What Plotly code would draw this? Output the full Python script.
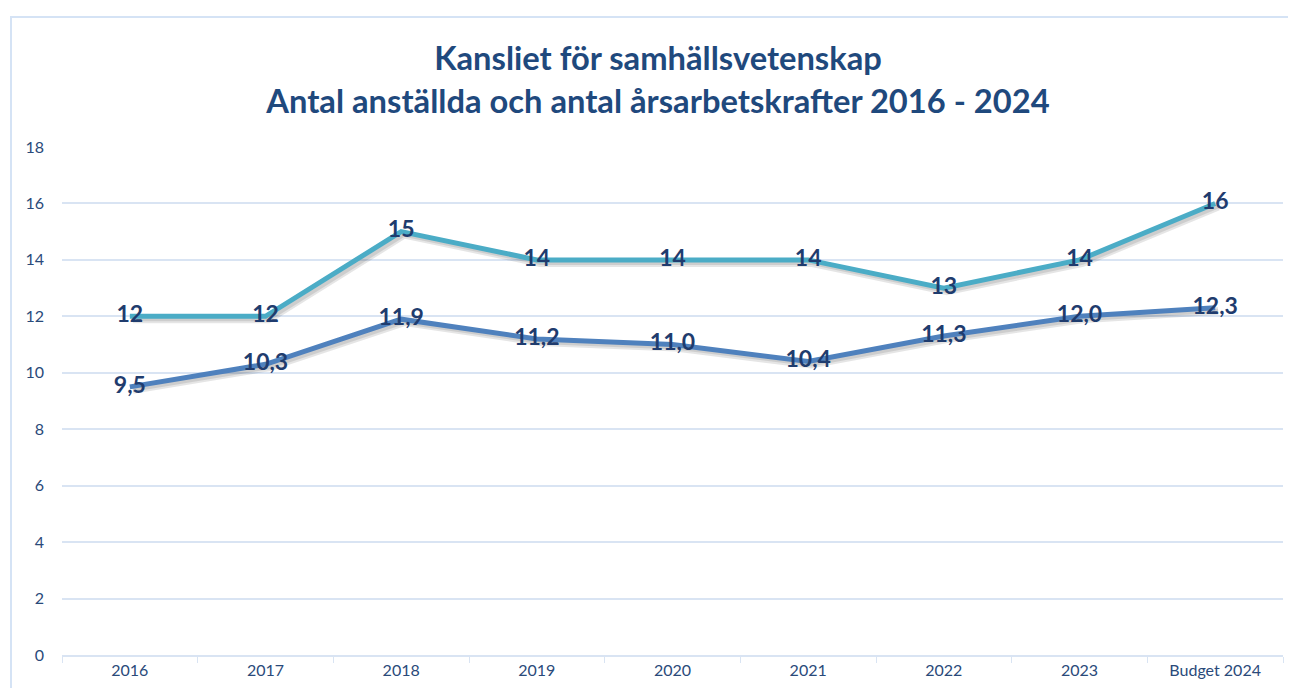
import plotly.graph_objects as go

categories = ["2016", "2017", "2018", "2019", "2020", "2021", "2022", "2023", "Budget 2024"]
anstallda = [12, 12, 15, 14, 14, 14, 13, 14, 16]
arsarbetskrafter = [9.5, 10.3, 11.9, 11.2, 11.0, 10.4, 11.3, 12.0, 12.3]
y_ticks = [0, 2, 4, 6, 8, 10, 12, 14, 16, 18]

title_text = "Kansliet för samhällsvetenskap<br>Antal anställda och antal årsarbetskrafter 2016 - 2024"

# page body has an 8px margin; figure placed at (8, 8)
OFF = 8
W, H = 1280, 680
L, R, T, B = 62 - OFF, (OFF + W) - 1283, 147 - OFF, (OFF + H) - 655
pw, ph = W - L - R, H - T - B

teal = "#4BACC6"
blue = "#4F81BD"
label_color = "#1F3C6E"
tick_color = "#2A4A7A"
grid_color = "#D9E4F3"
font_family = "Lato, 'Open Sans', sans-serif"

def fmt_int(v):
    return f"{v:d}"

def fmt_dec(v):
    return f"{v:.1f}".replace(".", ",")

fig = go.Figure()

# invisible trace to establish base axes (grid)
fig.add_trace(go.Scatter(x=categories, y=anstallda, mode="lines",
                         line=dict(width=0), hoverinfo="skip", showlegend=False, opacity=0))

# soft shadows on offset axes
for vals in (anstallda, arsarbetskrafter):
    fig.add_trace(go.Scatter(
        x=categories, y=vals, mode="lines", xaxis="x2", yaxis="y2",
        line=dict(color="rgba(0,0,0,0.10)", width=8), hoverinfo="skip", showlegend=False,
    ))
    fig.add_trace(go.Scatter(
        x=categories, y=vals, mode="lines", xaxis="x2", yaxis="y2",
        line=dict(color="rgba(0,0,0,0.10)", width=4), hoverinfo="skip", showlegend=False,
    ))

fig.add_trace(go.Scatter(
    x=categories, y=anstallda, name="Antal anställda", mode="lines+text",
    xaxis="x3", yaxis="y3",
    line=dict(color=teal, width=5),
    text=[fmt_int(v) for v in anstallda], textposition="middle center",
    textfont=dict(family=font_family, size=23, color=label_color, weight="bold"),
    showlegend=False,
))
fig.add_trace(go.Scatter(
    x=categories, y=arsarbetskrafter, name="Antal årsarbetskrafter", mode="lines+text",
    xaxis="x3", yaxis="y3",
    line=dict(color=blue, width=5),
    text=[fmt_dec(v) for v in arsarbetskrafter], textposition="middle center",
    textfont=dict(family=font_family, size=23, color=label_color, weight="bold"),
    showlegend=False,
))

# chart border
bx0 = (11 - OFF - L) / pw
by1 = (OFF + H - B - 17) / ph
fig.add_shape(type="rect", xref="paper", yref="paper",
              x0=bx0, x1=1.05, y0=-0.3, y1=by1,
              line=dict(color="#D5E3F5", width=2), layer="below")

xr = [-0.5, 8.5]
yr = [0, 18]
dx = 3 / pw * (xr[1] - xr[0])
dy = 3 / ph * (yr[1] - yr[0])

fig.update_layout(
    width=W, height=H,
    margin=dict(l=L, r=R, t=T, b=B),
    paper_bgcolor="white", plot_bgcolor="white",
    font=dict(family=font_family, color=tick_color),
    title=dict(text=title_text, x=(658 - OFF) / W, xref="container", xanchor="center",
               y=1 - 62 / H, yanchor="top",
               font=dict(family=font_family, size=32.7, color="#1F497D", weight="bold")),
    xaxis=dict(type="category", range=xr, domain=[0, 1],
               showgrid=False, showline=True, linecolor=grid_color, linewidth=2,
               ticks="outside", tickson="boundaries", ticklen=6, tickcolor=grid_color,
               tickfont=dict(size=16, color=tick_color), fixedrange=True),
    yaxis=dict(range=yr, tickvals=y_ticks, domain=[0, 1],
               showgrid=True, gridcolor=grid_color, gridwidth=1.5,
               zeroline=False, showline=False, ticks="", ticklabelstandoff=17,
               tickfont=dict(size=16, color=tick_color)),
    xaxis2=dict(type="category", range=[xr[0] - dx, xr[1] - dx], domain=[0, 1],
                overlaying="x", visible=False, anchor="y2"),
    yaxis2=dict(range=[yr[0] + dy, yr[1] + dy], domain=[0, 1], overlaying="y",
                visible=False, anchor="x2"),
    xaxis3=dict(type="category", range=xr, domain=[0, 1],
                overlaying="x", visible=False, anchor="y3"),
    yaxis3=dict(range=yr, domain=[0, 1], overlaying="y", visible=False, anchor="x3"),
)

fig.write_html("out.html")
